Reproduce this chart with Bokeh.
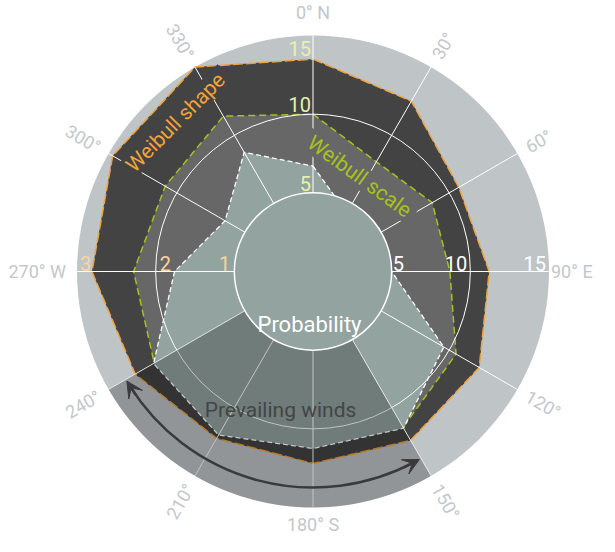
import numpy as np
from bokeh.plotting import figure
from bokeh.models import Range1d, Arrow, VeeHead
from bokeh.core.properties import value
from bokeh.embed import file_html
from bokeh.resources import INLINE

# ---------------- data ----------------
directions = [0, 30, 60, 90, 120, 150, 180, 210, 240, 270, 300, 330]
direction_labels = ["0° N", "30°", "60°", "90° E", "120°", "150°",
                    "180° S", "210°", "240°", "270° W", "300°", "330°"]
probability = [6.7, 4.3, 4.0, 5.0, 9.6, 11.5, 11.25, 12.0, 11.7, 8.8, 6.45, 8.75]   # %
weibull_scale = [10.0, 8.05, 8.75, 8.7, 10.5, 11.45, 10.8, 11.2, 11.65, 11.4, 10.85, 11.4]  # m/s
weibull_shape = [2.7, 2.5, 2.14, 2.24, 2.44, 2.48, 2.44, 2.45, 2.61, 2.81, 2.94, 3.0]
scale_ticks = [5, 10, 15]
prob_ticks = [5, 10, 15]
shape_ticks = [1, 2, 3]
prevailing_sector = [150, 240]
scale_max = 15
prob_max = 15
shape_max = 3

# ---------------- geometry / style ----------------
R = 236.0
r_scale = lambda v: v / scale_max * R
r_prob = lambda v: v / prob_max * R
r_shape = lambda v: v / shape_max * R
HUB = r_prob(5)
GRID = r_scale(10)


def pol(r, th):
    t = np.radians(np.asarray(th, dtype=float))
    return np.asarray(r) * np.sin(t), np.asarray(r) * np.cos(t)


RING = "#bfc4c7"
DARK = "#434343"
MID = "#676767"
PROB = "#93a3a0"
ORANGE = "#f2a23a"
GREEN = "#a6c21e"
FONT = value("Roboto")

p = figure(width=599, height=536, output_backend="svg", toolbar_location=None,
           x_range=Range1d(-312.5, 286.5), y_range=Range1d(-265, 271),
           x_axis_type=None, y_axis_type=None, min_border=0,
           outline_line_color=None, background_fill_color="white",
           border_fill_color="white")
p.grid.visible = False

# outer disk
p.circle(x=0, y=0, radius=R, fill_color=RING, line_color=None)

# Weibull shape polygon
sx, sy = pol([r_shape(v) for v in weibull_shape], directions)
p.patch(list(sx), list(sy), fill_color=DARK, line_color=ORANGE,
        line_width=1.5, line_dash="10 3")

# Weibull scale polygon
cx, cy = pol([r_scale(v) for v in weibull_scale], directions)
p.patch(list(cx), list(cy), fill_color=MID, line_color=GREEN,
        line_width=1.5, line_dash="7 4")

# probability polygon
px_, py_ = pol([r_prob(v) for v in probability], directions)
p.patch(list(px_), list(py_), fill_color=PROB, line_color="white",
        line_width=1.3, line_dash="5 3")

# grid circle and spokes
p.circle(x=0, y=0, radius=GRID, fill_color=None, line_color="white", line_width=1)
x0, y0 = pol([HUB] * 12, directions)
x1, y1 = pol([R] * 12, directions)
p.segment(x0=list(x0), y0=list(y0), x1=list(x1), y1=list(y1),
          line_color="white", line_width=1)

# prevailing winds sector overlay
a0, a1 = prevailing_sector
p.annular_wedge(x=0, y=0, inner_radius=HUB, outer_radius=R,
                start_angle=np.radians(90 - a1), end_angle=np.radians(90 - a0),
                fill_color="black", fill_alpha=0.24, line_color=None)

# hub
p.circle(x=0, y=0, radius=HUB, fill_color=PROB, line_color="white", line_width=1.5)

# series labels with backgrounds
p.rect(x=[-137.5], y=[149], width=142, height=23, angle=np.radians(45),
       fill_color=DARK, line_color=None)
p.rect(x=[46.5], y=[95], width=134, height=23, angle=np.radians(-36),
       fill_color=MID, line_color=None)
p.text(x=[-137.5], y=[149], text=["Weibull shape"], angle=np.radians(45),
       text_font=FONT, text_font_size="21px", text_color=ORANGE,
       text_align="center", text_baseline="middle")
p.text(x=[46.5], y=[95], text=["Weibull scale"], angle=np.radians(-36),
       text_font=FONT, text_font_size="21px", text_color=GREEN,
       text_align="center", text_baseline="middle")

# centre labels
p.text(x=[-3.5], y=[-53], text=["Probability"], text_font=FONT,
       text_font_size="22px", text_color="white", text_align="center",
       text_baseline="alphabetic")
p.text(x=[-32.5], y=[-138], text=["Prevailing winds"], text_font=FONT,
       text_font_size="21px", text_color="#454545", text_align="center",
       text_baseline="alphabetic")

# radial axis labels
# top: Weibull scale
ty = [min(r_scale(v), R - 22) + 2 for v in scale_ticks]
p.text(x=[-2] * 3, y=ty, text=[str(v) for v in scale_ticks], text_font=FONT,
       text_font_size="20px", text_color="#e6f2a8", text_align="right",
       text_baseline="bottom")
# right: probability
rx = [r_prob(v) + 1 if v == prob_ticks[0] else r_prob(v) - 3 for v in prob_ticks]
ra = ["left", "right", "right"]
for xx, t, al in zip(rx, prob_ticks, ra):
    p.text(x=[xx], y=[1], text=[str(t)], text_font=FONT, text_font_size="20px",
           text_color="white", text_align=al, text_baseline="bottom")
# left: Weibull shape
lx = [-r_shape(1) - 4, -r_shape(2) + 4, -r_shape(3) + 3]
la = ["right", "left", "left"]
for xx, t, al in zip(lx, shape_ticks, la):
    p.text(x=[xx], y=[1], text=[str(t)], text_font=FONT, text_font_size="20px",
           text_color="#fbd3a0", text_align=al, text_baseline="bottom")

# prevailing arrow
ARC_R = 216
ARROW = "#3a3a3a"
p.arc(x=0, y=0, radius=ARC_R, start_angle=np.radians(90 - (a1 - 2)),
      end_angle=np.radians(90 - (a0 + 2)), line_color=ARROW, line_width=2.5)
for th_s, th_e in [(a1 - 5, a1 - 0.5), (a0 + 5, a0 + 0.5)]:
    xs_, ys_ = pol(ARC_R, th_s)
    xe_, ye_ = pol(ARC_R, th_e)
    p.add_layout(Arrow(end=VeeHead(size=16, fill_color=ARROW, line_color=ARROW),
                       x_start=float(xs_), y_start=float(ys_),
                       x_end=float(xe_), y_end=float(ye_),
                       line_color=ARROW, line_width=2.5))

# direction labels
label_r = {0: 259, 180: 253, 90: 238}
for th, lab in zip(directions, direction_labels):
    rr = label_r.get(th, 247)
    xx, yy = pol(rr, th)
    if th in (0, 180):
        ang, al = 0, "center"
    else:
        ang = 90 - th
        if th > 180:
            ang += 180
            al = "right"
        else:
            al = "left"
    p.text(x=[float(xx)], y=[float(yy)], text=[lab], angle=np.radians(ang),
           text_font=FONT, text_font_size="18px", text_color="#c3c7cb",
           text_align=al, text_baseline="middle")

open("out.html", "w").write(file_html(p, INLINE))
